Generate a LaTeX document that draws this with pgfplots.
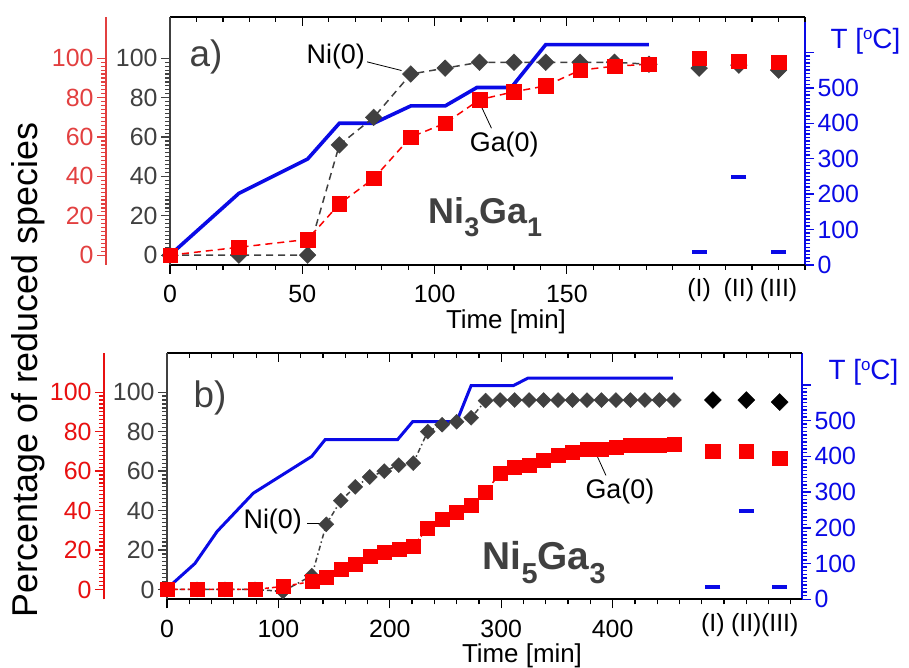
\documentclass[border=0pt]{standalone}
\usepackage{fontspec}
\setmainfont{Liberation Sans}
\usepackage{pgfplots}
\pgfplotsset{compat=1.18}
\definecolor{ngray}{RGB}{64,64,64}
\definecolor{nred}{RGB}{250,0,0}
\definecolor{redaxa}{RGB}{226,64,64}
\definecolor{redaxb}{RGB}{232,16,16}
\definecolor{nblue}{RGB}{10,10,230}
\newcommand{\fs}[1]{\fontsize{#1}{#1}\selectfont}
\pgfplotsset{
  common/.style={scale only axis, anchor=south west,
    /pgf/number format/assume math mode=true,
    tick label style={font=\fs{25}},
    major tick length=9bp, minor tick length=5bp,
    tick align=outside, clip=false},
  topticks/.style={common, hide y axis, axis x line*=top, tick align=inside,
    xticklabel={\relax}, x axis line style={black, line width=1.8bp, -},
    xtick style={black, line width=1.2bp}},
  redaxis/.style={common, width=20bp, xmin=0, xmax=1, hide x axis, axis y line*=left,
    y axis line style={#1, line width=2.2bp, -}, ytick style={#1, line width=1.2bp},
    yticklabel style={#1}, ytick={0,20,...,100}, minor y tick num=9},
  blueaxis/.style={common, hide x axis, axis y line*=right,
    y axis line style={nblue, line width=2.6bp, -}, ytick style={nblue, line width=1.4bp},
    yticklabel style={nblue}, ytick={0,100,...,600}, yticklabels={0,100,200,300,400,500,{}},
    minor y tick num=9},
  mainaxis/.style={common, axis x line*=box, axis y line*=left,
    x axis line style={black, line width=1.8bp, -}, y axis line style={ngray, line width=1.8bp, -},
    xtick pos=bottom, xtick style={black, line width=1.2bp}, ytick style={ngray, line width=1.2bp},
    xticklabel style={anchor=base, yshift=-29bp},
    yticklabel style={ngray}, ytick={0,20,...,100}, minor y tick num=9,
    extra x tick style={major tick length=0pt, xticklabel style={yshift=-3bp}}},
}
\begin{document}
\begin{tikzpicture}[x=1bp,y=1bp]
\useasboundingbox (0bp,0bp) rectangle (909bp,668bp);
% ================= panel a =================
\begin{axis}[blueaxis, at={(170bp,403bp)}, width=635bp, height=248bp, xmin=0, xmax=240, ymin=0, ymax=700]
\addplot[nblue, line width=3.6bp] coordinates {(0,28)(26,202)(52,299)(64,400)(77,400)(91,449)(104,449)(116,501)(129,501)(142,622)(181,622)};
\addplot[nblue, only marks, mark=-, mark size=7.5bp, mark options={line width=4bp}] coordinates {(200,36)(215,249)(230,36)};
\end{axis}
\begin{axis}[redaxis=redaxa, at={(106bp,403bp)}, height=248bp, ymin=-5, ymax=121]
\end{axis}
\begin{axis}[topticks, at={(170bp,403bp)}, width=635bp, height=248bp, xmin=0, xmax=240, ymin=0, ymax=1,
  xtick={0,50,100,150}, minor xtick={0,10,...,240}]
\end{axis}
\begin{axis}[mainaxis, at={(170bp,403bp)}, width=635bp, height=248bp, xmin=0, xmax=240, ymin=-5, ymax=121,
  xtick={0,50,100,150}, minor xtick={0,10,...,240},
  extra x ticks={200,215,230}, extra x tick labels={(I),(II),(III)}]
\addplot[ngray, line width=1.5bp, dash pattern=on 7bp off 5bp, mark=square*, mark size=5.9bp,
  mark options={rotate=45, solid, line width=0.4bp, fill=ngray}]
  coordinates {(0,0)(26,0)(52,0)(64,56)(77,70)(91,92)(104,95)(117,98)(130,98)(142,98)(155,98)(168,98)(181,97)};
\addplot[ngray, only marks, mark=square*, mark size=5.9bp, mark options={rotate=45, line width=0.4bp, fill=ngray}]
  coordinates {(200,95)(215,96.5)(230,94)};
\addplot[nred, line width=1.5bp, dash pattern=on 7bp off 5bp, mark=square*, mark size=7.3bp,
  mark options={solid, line width=0.4bp, fill=nred}]
  coordinates {(0,0)(26,4)(52,8)(64,26)(77,39)(91,60)(104,67)(117,79)(130,83)(142,86)(155,94)(168,96)(181,97)};
\addplot[nred, only marks, mark=square*, mark size=7.3bp, mark options={line width=0.4bp, fill=nred}]
  coordinates {(200,100)(215,98.5)(230,98)};
\node[anchor=base west, font=\fs{27}] at (axis cs:50.3,97.4) {Ni(0)};
\draw[black, line width=0.8bp] (axis cs:74.5,98.2) -- (axis cs:87.5,93.8);
\node[anchor=base west, font=\fs{27}] at (axis cs:112,52.6) {Ga(0)};
\draw[black, line width=0.8bp] (axis cs:121.5,64.5) -- (axis cs:117.5,76);
\end{axis}
% ================= panel b =================
\begin{axis}[blueaxis, at={(167bp,68.7bp)}, width=635bp, height=246.6bp, xmin=0, xmax=570, ymin=0, ymax=690]
\addplot[nblue, line width=3bp] coordinates {(0,30)(25,100)(45,190)(77.5,297)(130,400)(142,447)(207,447)(220.5,497)(260,497)(273,598)(311,598)(324,619)(454,619)};
\addplot[nblue, only marks, mark=-, mark size=7.5bp, mark options={line width=4bp}] coordinates {(490,35)(520,247)(550,35)};
\end{axis}
\begin{axis}[redaxis=redaxb, at={(104bp,68.7bp)}, height=246.6bp, ymin=-5, ymax=120]
\end{axis}
\begin{axis}[topticks, at={(167bp,68.7bp)}, width=635bp, height=246.6bp, xmin=0, xmax=570, ymin=0, ymax=1,
  xtick={0,100,...,400}, minor xtick={0,20,...,560}]
\end{axis}
\begin{axis}[mainaxis, at={(167bp,68.7bp)}, width=635bp, height=246.6bp, xmin=0, xmax=570, ymin=-5, ymax=120,
  xtick={0,100,...,400}, minor xtick={0,20,...,560},
  extra x ticks={490,520,550}, extra x tick labels={(I),(II),(III)}]
\addplot[ngray, line width=1.5bp, dash pattern=on 5bp off 3bp on 1.5bp off 3bp, mark=square*, mark size=5.3bp,
  mark options={rotate=45, solid, line width=0.4bp, fill=ngray}]
  coordinates {(0,0)(27,0)(52,0)(79,0)(104,-1)(130,7)(143,33)(156,45)(169,52)(182,57)(195,60)(208,63)(221,64)(234,80)(247,83.5)(260,85)(273,87)(286,95.7)(299,96)(312,96)(325,96)(338,96)(351,96)(364,96)(377,96)(390,96)(403,96)(416,96)(429,96)(442,96)(455,96)};
\addplot[black, only marks, mark=square*, mark size=6bp, mark options={rotate=45, line width=0.4bp, fill=black}]
  coordinates {(490,96)(520,96)(550,95)};
\addplot[nred, line width=1.5bp, dash pattern=on 4bp off 3bp, mark=square*, mark size=7bp,
  mark options={solid, line width=0.4bp, fill=nred}]
  coordinates {(0,0)(27,0)(52,0)(79,0)(104,1.5)(130,4)(143,6)(156,10.5)(169,13)(182,17)(195,19)(208,20.5)(221,22)(234,31)(247,35.5)(260,39)(273,42.7)(286,49.4)(299,59)(312,62)(325,63)(338,65.4)(351,68)(364,69.6)(377,71)(390,71.3)(403,72.2)(416,73)(429,73)(442,73)(455,73.5)};
\addplot[nred, only marks, mark=square*, mark size=7.3bp, mark options={line width=0.4bp, fill=nred}]
  coordinates {(490,70)(520,70)(550,66.5)};
\node[anchor=base west, font=\fs{27}] at (axis cs:65.6,30.9) {Ni(0)};
\draw[black, line width=0.8bp] (axis cs:126,33.4) -- (axis cs:140,33.4);
\node[anchor=base west, font=\fs{27}] at (axis cs:372.5,46) {Ga(0)};
\draw[black, line width=0.8bp] (axis cs:394,57.8) -- (axis cs:385,69);
\end{axis}
% ================= texts =================
\node[rotate=90, anchor=base, font=\fs{36}] at (37bp,298bp) {Percentage of reduced species};
\node[anchor=base west, font=\fs{37}, text=ngray] at (186bp,601.3bp) {a)};
\node[anchor=base west, font=\fs{37}, text=ngray] at (190bp,260bp) {b)};
\node[anchor=base west, font=\fs{36}\bfseries, text=ngray] at (425bp,444.7bp)
  {Ni\raisebox{-13bp}{\fs{27}3}Ga\raisebox{-13bp}{\fs{27}1}};
\node[anchor=base west, font=\fs{39}\bfseries, text=ngray] at (479.3bp,98.7bp)
  {Ni\raisebox{-14bp}{\fs{29}5}Ga\raisebox{-14bp}{\fs{29}3}};
\node[anchor=base west, font=\fs{28}, text=nblue] at (827bp,619.7bp) {T [\raisebox{9bp}{\fs{17}o}C]};
\node[anchor=base west, font=\fs{28}, text=nblue] at (825bp,288bp) {T [\raisebox{9bp}{\fs{17}o}C]};
\node[anchor=base, font=\fs{26}] at (506bp,339.7bp) {Time [min]};
\node[anchor=base, font=\fs{26}] at (522bp,6bp) {Time [min]};
\end{tikzpicture}
\end{document}
